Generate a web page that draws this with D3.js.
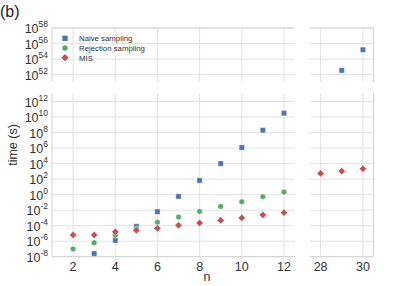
<!DOCTYPE html>
<html>
<head>
<meta charset="utf-8">
<script src="https://cdn.jsdelivr.net/npm/d3@7"></script>
<style>
  body { margin: 0; background: #fff; }
  text { font-family: "Liberation Sans", Arial, sans-serif; }
</style>
</head>
<body>
<div id="chart"></div>
<script>
'use strict';

// данные (log10 времени в секундах)
const naiveN = [3, 4, 5, 6, 7, 8, 9, 10, 11, 12, 29, 30];
const naiveLog = [-7.6, -5.9, -4.1, -2.2, -0.23, 1.83, 4.0, 6.07, 8.3, 10.5, 52.55, 55.2];
const rejectionN = [2, 3, 4, 5, 6, 7, 8, 9, 10, 11, 12];
const rejectionLog = [-7.0, -6.2, -5.25, -4.4, -3.57, -2.88, -2.16, -1.52, -0.91, -0.27, 0.33];
const misN = [2, 3, 4, 5, 6, 7, 8, 9, 10, 11, 12, 28, 29, 30];
const misLog = [-5.2, -5.2, -4.8, -4.6, -4.34, -3.96, -3.65, -3.32, -3.0, -2.62, -2.33, 2.73, 3.03, 3.33];
const xTicksLeft = [2, 4, 6, 8, 10, 12];
const xTicksRight = [28, 30];
const yExpBottom = [-8, -6, -4, -2, 0, 2, 4, 6, 8, 10, 12];
const yExpTop = [52, 54, 56, 58];
const legendNames = ["Naive sampling", "Rejection sampling", "MIS"];

const W = 415, H = 286;
const colors = {naive: "#4C72B0", rej: "#55A868", mis: "#C44E52"};
const gridColor = "#e2e2e2";
const spineColor = "#d2d2d2";

const svg = d3.select("#chart").append("svg")
    .attr("width", W)
    .attr("height", H);

// шкалы
const xL = d3.scaleLinear().domain([1, 12.5]).range([52, 294.5]);
const xR = d3.scaleLinear().domain([27.5, 30.5]).range([310, 373.5]);
const yTop = d3.scaleLog().domain([Math.pow(10, 51.05), 1e58]).range([82, 28]);
const yBot = d3.scaleLog().domain([1e-8, Math.pow(10, 13.1)]).range([256.7, 93]);

const panels = [
    {x: xL, y: yTop, xt: xTicksLeft, yt: yExpTop, spines: ["left", "top"]},
    {x: xR, y: yTop, xt: xTicksRight, yt: yExpTop, spines: ["right", "top"]},
    {x: xL, y: yBot, xt: xTicksLeft, yt: yExpBottom, spines: ["left", "bottom"]},
    {x: xR, y: yBot, xt: xTicksRight, yt: yExpBottom, spines: ["right", "bottom"]}
];

// сетка и рамки
panels.forEach(p => {
    const [x0, x1] = p.x.range();
    const [y0, y1] = p.y.range(); // y0 - низ, y1 - верх
    const g = svg.append("g");
    p.xt.forEach(t => {
        g.append("line")
            .attr("x1", p.x(t)).attr("x2", p.x(t))
            .attr("y1", y0).attr("y2", y1)
            .style("stroke", gridColor).style("stroke-width", 1);
    });
    p.yt.forEach(e => {
        g.append("line")
            .attr("x1", x0).attr("x2", x1)
            .attr("y1", p.y(Math.pow(10, e))).attr("y2", p.y(Math.pow(10, e)))
            .style("stroke", gridColor).style("stroke-width", 1);
    });
    p.spines.forEach(s => {
        const l = g.append("line").style("stroke", spineColor).style("stroke-width", 1);
        if (s === "left") l.attr("x1", x0).attr("x2", x0).attr("y1", y0).attr("y2", y1);
        if (s === "right") l.attr("x1", x1).attr("x2", x1).attr("y1", y0).attr("y2", y1);
        if (s === "top") l.attr("x1", x0).attr("x2", x1).attr("y1", y1).attr("y2", y1);
        if (s === "bottom") l.attr("x1", x0).attr("x2", x1).attr("y1", y0).attr("y2", y0);
    });
});

// подписи оси Y (10^k)
function yLabels(scale, exps) {
    exps.forEach(e => {
        const t = svg.append("text")
            .attr("x", 48)
            .attr("y", scale(Math.pow(10, e)) + 5)
            .attr("text-anchor", "end")
            .style("font-size", "12.5px")
            .style("fill", "#333");
        t.append("tspan").text("10");
        t.append("tspan")
            .attr("dy", -6)
            .style("font-size", "8.5px")
            .text(String(e));
    });
}
yLabels(yTop, yExpTop);
yLabels(yBot, yExpBottom);

// подписи оси X
[[xL, xTicksLeft], [xR, xTicksRight]].forEach(([sc, ticks]) => {
    ticks.forEach(t => {
        svg.append("text")
            .attr("x", sc(t))
            .attr("y", 271)
            .attr("text-anchor", "middle")
            .style("font-size", "12.5px")
            .style("fill", "#333")
            .text(t);
    });
});

svg.append("text")
    .attr("x", 207).attr("y", 281)
    .attr("text-anchor", "middle")
    .style("font-size", "12.5px")
    .style("fill", "#333")
    .text("n");

svg.append("text")
    .attr("transform", "translate(17,145) rotate(-90)")
    .attr("text-anchor", "middle")
    .style("font-size", "12.5px")
    .style("fill", "#333")
    .text("time (s)");

svg.append("text")
    .attr("x", 0).attr("y", 17)
    .style("font-size", "16px")
    .style("fill", "#222")
    .text("(b)");

// маркеры; ромб - квадрат, повернутый на 45 градусов
const sqSym = d3.symbol().type(d3.symbolSquare).size(28);
const ciSym = d3.symbol().type(d3.symbolCircle).size(24);
const diSym = d3.symbol().type(d3.symbolSquare).size(26);

function pos(n, lg) {
    const x = n >= 20 ? xR(n) : xL(n);
    const y = lg > 40 ? yTop(Math.pow(10, lg)) : yBot(Math.pow(10, lg));
    return [x, y];
}

function drawSeries(ns, logs, sym, color, rot) {
    svg.append("g").selectAll("path")
        .data(ns.map((n, i) => pos(n, logs[i])))
        .enter().append("path")
        .attr("d", sym)
        .attr("transform", d => "translate(" + d[0] + "," + d[1] + ") rotate(" + rot + ")")
        .style("fill", color)
        .style("stroke", "#fff")
        .style("stroke-width", 0.4);
}

drawSeries(naiveN, naiveLog, sqSym, colors.naive, 0);
drawSeries(rejectionN, rejectionLog, ciSym, colors.rej, 0);
drawSeries(misN, misLog, diSym, colors.mis, 45);

// легенда
const legSyms = [sqSym, ciSym, diSym];
const legColors = [colors.naive, colors.rej, colors.mis];
const legRot = [0, 0, 45];
legendNames.forEach((name, i) => {
    const y = 38.3 + i * 9.7;
    svg.append("path")
        .attr("d", legSyms[i])
        .attr("transform", "translate(65," + y + ") rotate(" + legRot[i] + ")")
        .style("fill", legColors[i]);
    svg.append("text")
        .attr("x", 79).attr("y", y + 2.8)
        .style("font-size", "7.8px")
        .style("fill", "#333")
        .text(name);
});
</script>
</body>
</html>
